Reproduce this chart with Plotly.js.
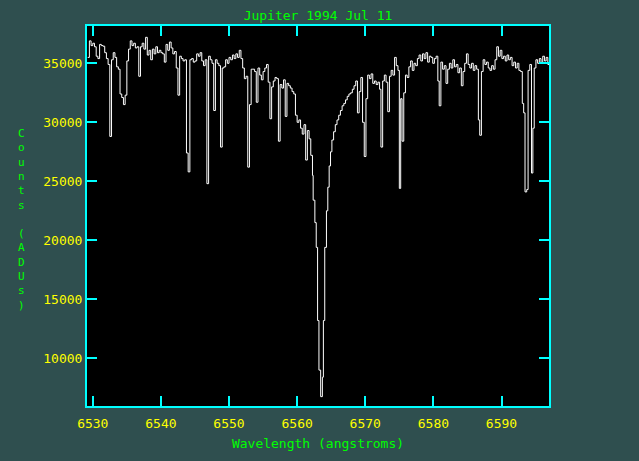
<!DOCTYPE html>
<html>
<head>
<meta charset="utf-8">
<script src="https://cdn.plot.ly/plotly-3.0.1.min.js"></script>
<style>html,body{margin:0;padding:0;background:#2F4F4F;}#chart{width:639px;height:461px;}</style>
</head>
<body>
<div id="chart"></div>
<script>
// Wavelength (angstroms)
const wavelength = [
6529.25,6529.50,6529.75,6530.00,6530.25,6530.50,6530.75,6531.00,6531.25,6531.50,
6531.75,6532.00,6532.25,6532.50,6532.75,6533.00,6533.25,6533.50,6533.75,6534.00,
6534.25,6534.50,6534.75,6535.00,6535.25,6535.50,6535.75,6536.00,6536.25,6536.50,
6536.75,6537.00,6537.25,6537.50,6537.75,6538.00,6538.25,6538.50,6538.75,6539.00,
6539.25,6539.50,6539.75,6540.00,6540.25,6540.50,6540.75,6541.00,6541.25,6541.50,
6541.75,6542.00,6542.25,6542.50,6542.75,6543.00,6543.25,6543.50,6543.75,6544.00,
6544.25,6544.50,6544.75,6545.00,6545.25,6545.50,6545.75,6546.00,6546.25,6546.50,
6546.75,6547.00,6547.25,6547.50,6547.75,6548.00,6548.25,6548.50,6548.75,6549.00,
6549.25,6549.50,6549.75,6550.00,6550.25,6550.50,6550.75,6551.00,6551.25,6551.50,
6551.75,6552.00,6552.25,6552.50,6552.75,6553.00,6553.25,6553.50,6553.75,6554.00,
6554.25,6554.50,6554.75,6555.00,6555.25,6555.50,6555.75,6556.00,6556.25,6556.50,
6556.75,6557.00,6557.25,6557.50,6557.75,6558.00,6558.25,6558.50,6558.75,6559.00,
6559.25,6559.50,6559.75,6560.00,6560.25,6560.50,6560.75,6561.00,6561.25,6561.50,
6561.75,6562.00,6562.25,6562.35,6562.60,6562.80,6563.00,6563.20,6563.45,6563.70,
6563.85,6564.05,6564.30,6564.50,6564.70,6564.90,6565.10,6565.35,6565.60,6565.85,
6566.10,6566.35,6566.60,6566.85,6567.10,6567.35,6567.60,6567.85,6568.10,6568.35,
6568.60,6568.85,6569.10,6569.35,6569.60,6569.85,6570.10,6570.35,6570.60,6570.85,
6571.10,6571.35,6571.60,6571.85,6572.10,6572.30,6572.55,6572.80,6573.05,6573.30,
6573.55,6573.80,6574.05,6574.30,6574.55,6574.80,6575.00,6575.20,6575.40,6575.65,
6575.90,6576.15,6576.40,6576.65,6576.90,6577.15,6577.40,6577.65,6577.90,6578.15,
6578.40,6578.65,6578.90,6579.15,6579.40,6579.65,6579.90,6580.15,6580.40,6580.65,
6580.85,6581.10,6581.35,6581.60,6581.85,6582.10,6582.35,6582.60,6582.85,6583.10,
6583.35,6583.60,6583.85,6584.10,6584.35,6584.60,6584.85,6585.10,6585.35,6585.60,
6585.85,6586.10,6586.35,6586.60,6586.80,6587.05,6587.30,6587.55,6587.80,6588.05,
6588.30,6588.55,6588.80,6589.05,6589.30,6589.55,6589.80,6590.05,6590.30,6590.55,
6590.80,6591.05,6591.30,6591.55,6591.80,6592.05,6592.30,6592.55,6592.80,6593.05,
6593.25,6593.45,6593.70,6593.90,6594.15,6594.40,6594.60,6594.80,6595.05,6595.30,
6595.55,6595.80,6596.05,6596.30,6596.55,6596.80,6597.00
];
// Counts (ADUs)
const counts = [
35500,36900,36500,36700,36400,35600,35400,36600,36500,36450,
35900,35400,34900,28800,35300,35900,35500,34700,34500,32400,
32100,31500,32300,35200,36200,36900,36500,36700,36300,36400,
33900,36400,36700,36200,37200,35700,36100,35300,36200,35800,
36400,35900,36100,35900,35800,35100,36600,36100,36800,36300,
35800,36000,34600,32300,35600,35400,35200,35300,27400,25800,
35300,35400,35100,35200,35800,35600,35900,35200,34800,35300,
24800,35600,35300,35000,31000,35300,35000,34800,27900,34600,
34700,35300,35000,35500,35300,35700,35400,35800,35500,36100,
35400,34600,33700,33900,26200,31500,34500,34500,34300,31700,
34600,34000,33600,34300,34600,34900,33400,30300,33000,33500,
33800,33700,28400,33200,32900,33600,30500,33300,33100,32900,
32600,32400,30600,30000,30200,29500,29000,29800,26800,29300,
28600,27200,25500,23400,21500,19400,13200,9000,6750,8400,
13200,19400,22500,24500,26300,27500,28500,29200,29800,30200,
30600,31000,31400,31600,31900,32200,32400,32500,32800,33100,
33500,30800,32600,33800,30000,27100,32000,34000,33700,34100,
33300,33500,33200,33400,32800,27900,33500,34000,33400,30900,
33900,34400,34000,35500,34800,34400,24400,32000,28400,32500,
34000,33800,34700,35200,34400,35000,34800,35400,35700,35200,
35800,35400,35900,35100,35600,35500,35000,35400,35600,33500,
31400,35100,34500,34800,33300,34500,35000,34600,35300,34700,
34900,34200,34600,33100,34300,35000,35800,34900,34600,35000,
34400,34800,34500,30200,28900,34300,35300,34900,35100,34600,
34400,34800,34500,35300,36400,35600,36100,35400,35600,35200,
35700,35300,35500,34800,35100,34600,35000,34400,34300,31600,
30800,24100,24300,34400,34900,25700,29500,34600,35300,35000,
35400,35000,35600,35200,35500,34900,35000
];
const xTickVals = [6530,6540,6550,6560,6570,6580,6590];
const yTickVals = [10000,15000,20000,25000,30000,35000];
const titleText = "Jupiter 1994 Jul 11";
const xTitle = "Wavelength (angstroms)";
const yTitle = "Counts (ADUs)";

const FONT = "DejaVu Sans Mono, Liberation Mono, monospace";
const W = 639, H = 461, L = 87, R = 90, T = 26, B = 55;
const plotH = H - T - B, plotW = W - L - R;

// vertical stacked y-axis title: one character per line, in a single text
const stacked = Array.from(yTitle).map(ch => ch === ' ' ? '\u00A0' : ch).join('<br>');
const annots = [{
  text: stacked, xref: 'paper', yref: 'paper',
  x: (21 - L) / plotW, y: (H - B - 219) / plotH,
  xanchor: 'center', yanchor: 'middle', showarrow: false, align: 'center',
  font: {family: FONT, size: 11, color: '#00FF00'}
}];

const trace = {
  x: wavelength, y: counts, type: 'scatter', mode: 'lines',
  line: {color: '#FFFFFF', width: 1, shape: 'hv'},
  hoverinfo: 'skip'
};

const axisCommon = {
  showgrid: false, zeroline: false,
  showline: true, linecolor: '#00FFFF', linewidth: 2, mirror: 'allticks',
  ticks: 'inside', ticklen: 10, tickwidth: 2, tickcolor: '#00FFFF',
  tickfont: {family: FONT, size: 13, color: '#FFFF00'}
};

const layout = {
  width: W, height: H,
  margin: {l: L, r: R, t: T, b: B, pad: 0},
  paper_bgcolor: '#2F4F4F', plot_bgcolor: '#000000',
  showlegend: false,
  title: {text: titleText, x: 0.5, xref: 'paper', xanchor: 'center',
          y: 1 - 15 / H, yref: 'container', yanchor: 'middle',
          font: {family: FONT, size: 13, color: '#00FF00'}},
  xaxis: Object.assign({}, axisCommon, {
    range: [6529.15, 6596.97], tickvals: xTickVals,
    ticktext: xTickVals.map(String), ticklabelstandoff: 4,
    title: {text: xTitle, standoff: 9, font: {family: FONT, size: 13, color: '#00FF00'}}
  }),
  yaxis: Object.assign({}, axisCommon, {
    range: [5958, 38161], tickvals: yTickVals,
    ticktext: yTickVals.map(String)
  }),
  annotations: annots
};

Plotly.newPlot('chart', [trace], layout, {staticPlot: true, displayModeBar: false});
</script>
</body>
</html>
